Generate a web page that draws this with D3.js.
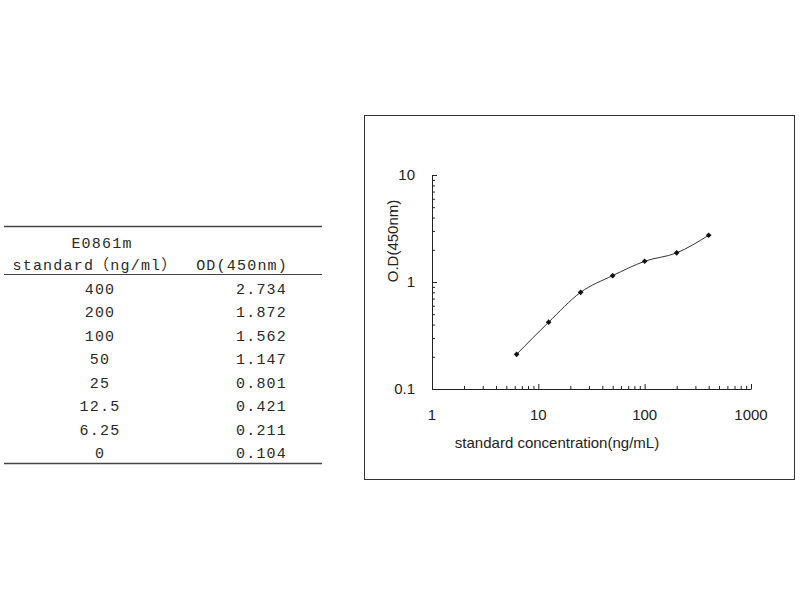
<!DOCTYPE html>
<html>
<head>
<meta charset="utf-8">
<script src="https://cdn.jsdelivr.net/npm/d3@7"></script>
<style>
  body { margin: 0; background: #fff; }
  svg { display: block; }
</style>
</head>
<body>
<script>
// standard curve data
var standards = ["400", "200", "100", "50", "25", "12.5", "6.25", "0"];
var concentrations = [400, 200, 100, 50, 25, 12.5, 6.25, 0];
var odValues = [2.734, 1.872, 1.562, 1.147, 0.801, 0.421, 0.211, 0.104];
var odLabels = ["2.734", "1.872", "1.562", "1.147", "0.801", "0.421", "0.211", "0.104"];
var xTicks = [1, 10, 100, 1000];
var yTicks = [0.1, 1, 10];

var svg = d3.select("body").append("svg")
    .attr("width", 800)
    .attr("height", 600);

// ---- table on the left ----
var tableFont = "'Liberation Mono', 'DejaVu Sans Mono', 'Noto Sans CJK SC', monospace";
var table = svg.append("g")
    .attr("font-family", tableFont)
    .attr("font-size", "15px")
    .attr("letter-spacing", "1.2px")
    .attr("fill", "#2a2a2a");

table.append("line").attr("x1", 4).attr("x2", 322).attr("y1", 226.5).attr("y2", 226.5)
    .attr("stroke", "#444").attr("stroke-width", 1.5);
table.append("line").attr("x1", 4).attr("x2", 322).attr("y1", 274.5).attr("y2", 274.5)
    .attr("stroke", "#444").attr("stroke-width", 1.2);
table.append("line").attr("x1", 4).attr("x2", 322).attr("y1", 463.5).attr("y2", 463.5)
    .attr("stroke", "#444").attr("stroke-width", 1.5);

table.append("text").attr("x", 102).attr("y", 248).attr("text-anchor", "middle").text("E0861m");
table.append("text").attr("x", 95).attr("y", 270).attr("text-anchor", "middle").text("standard\uff08ng/ml\uff09");
table.append("text").attr("x", 288).attr("y", 270).attr("text-anchor", "end").text("OD(450nm)");

var rowY = d3.scaleBand().domain(d3.range(standards.length)).range([277, 465]);

table.selectAll("text.std")
    .data(standards)
    .enter()
    .append("text")
    .attr("class", "std")
    .attr("x", 100)
    .attr("y", function(d, i) { return rowY(i) + rowY.bandwidth() / 2 + 5; })
    .attr("text-anchor", "middle")
    .text(function(d) { return d; });

table.selectAll("text.od")
    .data(odLabels)
    .enter()
    .append("text")
    .attr("class", "od")
    .attr("x", 287)
    .attr("y", function(d, i) { return rowY(i) + rowY.bandwidth() / 2 + 5; })
    .attr("text-anchor", "end")
    .text(function(d) { return d; });

// ---- chart frame ----
svg.append("rect")
    .attr("x", 364.5).attr("y", 115.5)
    .attr("width", 430).attr("height", 364)
    .attr("fill", "none").attr("stroke", "#333").attr("stroke-width", 1);

var chartFont = "'Liberation Sans', Arial, sans-serif";

var x = d3.scaleLog().domain([1, 1000]).range([432, 751]);
var y = d3.scaleLog().domain([0.1, 10]).range([389, 175]);

var points = concentrations.map(function(c, i) { return { c: c, od: odValues[i] }; })
    .filter(function(d) { return d.c > 0; })
    .sort(function(a, b) { return a.c - b.c; });

// minor tick values 2..9 in each decade
var minorX = [];
[1, 10, 100].forEach(function(p) { for (var k = 2; k <= 9; k++) minorX.push(p * k); });
var minorY = [];
[0.1, 1].forEach(function(p) { for (var k = 2; k <= 9; k++) minorY.push(+(p * k).toFixed(2)); });

// x axis, ticks pointing up into the plot
var xAxis = svg.append("g").attr("transform", "translate(0,389)")
    .call(d3.axisTop(x).tickValues(minorX).tickSize(3).tickFormat(""));
xAxis.select(".domain").remove();
xAxis.selectAll("line").attr("stroke", "#222");
var xMajor = svg.append("g").attr("transform", "translate(0,389)")
    .call(d3.axisTop(x).tickValues(xTicks).tickSize(5).tickSizeOuter(0).tickFormat(""));
xMajor.select(".domain").attr("stroke", "#222");
xMajor.selectAll("line").attr("stroke", "#222");

svg.append("g").selectAll("text")
    .data(xTicks)
    .enter()
    .append("text")
    .attr("x", function(d) { return x(d); })
    .attr("y", 420)
    .attr("text-anchor", "middle")
    .attr("font-family", chartFont)
    .attr("font-size", "15px")
    .attr("fill", "#222")
    .text(function(d) { return d; });

// y axis, ticks pointing right into the plot
var yAxis = svg.append("g").attr("transform", "translate(432,0)")
    .call(d3.axisRight(y).tickValues(minorY).tickSize(3).tickFormat(""));
yAxis.select(".domain").remove();
yAxis.selectAll("line").attr("stroke", "#222");
var yMajor = svg.append("g").attr("transform", "translate(432,0)")
    .call(d3.axisRight(y).tickValues(yTicks).tickSize(5).tickSizeOuter(0).tickFormat(""));
yMajor.select(".domain").attr("stroke", "#222");
yMajor.selectAll("line").attr("stroke", "#222");

svg.append("g").selectAll("text")
    .data(yTicks)
    .enter()
    .append("text")
    .attr("x", 415)
    .attr("y", function(d) { return y(d) + 5; })
    .attr("text-anchor", "end")
    .attr("font-family", chartFont)
    .attr("font-size", "15px")
    .attr("fill", "#222")
    .text(function(d) { return d; });

// axis titles
svg.append("text")
    .attr("x", 557).attr("y", 448)
    .attr("text-anchor", "middle")
    .attr("font-family", chartFont)
    .attr("font-size", "15px")
    .attr("fill", "#222")
    .text("standard concentration(ng/mL)");

svg.append("text")
    .attr("transform", "translate(398,241) rotate(-90)")
    .attr("text-anchor", "middle")
    .attr("font-family", chartFont)
    .attr("font-size", "15px")
    .attr("fill", "#222")
    .text("O.D(450nm)");

// curve
var line = d3.line()
    .x(function(d) { return x(d.c); })
    .y(function(d) { return y(d.od); })
    .curve(d3.curveMonotoneX);

svg.append("path")
    .datum(points)
    .attr("d", line)
    .attr("fill", "none")
    .attr("stroke", "#333")
    .attr("stroke-width", 1);

// small diamonds: squares turned 45 degrees
svg.selectAll("path.pt")
    .data(points)
    .enter()
    .append("path")
    .attr("class", "pt")
    .attr("d", d3.symbol().type(d3.symbolSquare).size(16))
    .attr("transform", function(d) { return "translate(" + x(d.c) + "," + y(d.od) + ") rotate(45)"; })
    .attr("fill", "#111");
</script>
</body>
</html>
